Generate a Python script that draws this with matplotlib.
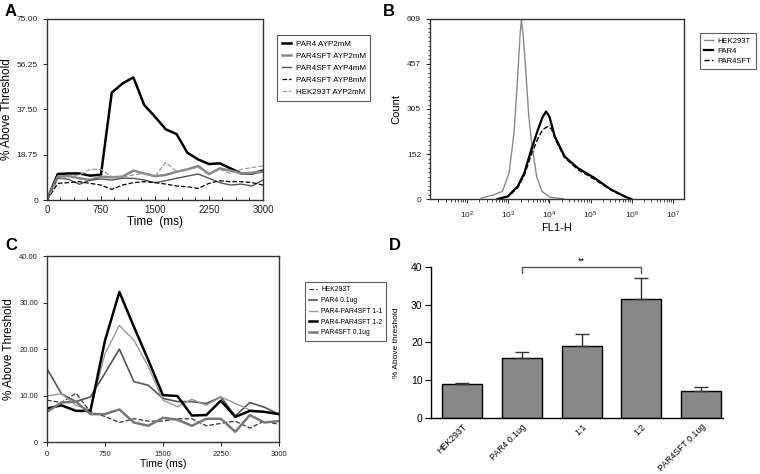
import matplotlib
matplotlib.use('Agg')
import matplotlib.pyplot as plt
import numpy as np
from matplotlib.ticker import MultipleLocator, LogLocator, NullFormatter

plt.rcParams['font.family'] = ['Liberation Sans', 'DejaVu Sans']

# ---- panel A data (sampled every 150 ms) ----
a_time = [0, 150, 300, 450, 600, 750, 900, 1050, 1200, 1350, 1500, 1650, 1800, 1950, 2100,
          2250, 2400, 2550, 2700, 2850, 3000]
a_par4 = [0, 10.8, 11.0, 11.0, 10.1, 10.5, 44.5, 48.3, 50.8, 39.4, 34.5, 29.3, 27.3, 19.6,
          16.8, 14.9, 15.2, 13.1, 11.0, 11.0, 12.2]
a_sft2 = [0, 9.7, 9.9, 9.0, 8.3, 9.7, 9.4, 9.7, 12.2, 11.0, 9.9, 10.4, 11.7, 12.7, 14.1,
          10.8, 13.1, 12.2, 11.0, 11.3, 11.7]
a_sft4 = [0, 9.0, 8.6, 6.5, 8.3, 8.7, 8.3, 9.0, 9.0, 8.3, 7.2, 8.0, 9.0, 9.9, 10.8,
          9.0, 7.2, 6.2, 6.6, 5.8, 8.3]
a_sft8 = [0, 6.9, 7.2, 7.6, 6.9, 6.2, 4.4, 6.2, 7.2, 7.6, 7.2, 6.6, 5.8, 5.5, 4.8,
          6.9, 8.0, 7.6, 7.6, 7.2, 6.2]
a_hek = [0, 8.6, 9.7, 10.4, 12.7, 12.7, 9.7, 9.4, 10.4, 11.0, 9.7, 15.6, 11.7, 12.7, 13.5,
         10.4, 12.7, 11.0, 12.7, 13.5, 14.1]

# ---- panel B data (log10 FL1-H, count) ----
b_hek_x = [2.34, 2.66, 2.86, 3.02, 3.14, 3.22, 3.29, 3.32, 3.36, 3.42, 3.50, 3.58, 3.69, 3.82, 4.02, 4.35]
b_hek_y = [3, 15, 26, 88, 223, 392, 560, 605, 560, 448, 279, 178, 77, 26, 6, 1]
b_par4_x = [2.74, 2.99, 3.23, 3.39, 3.56, 3.72, 3.84, 3.92, 4.00, 4.13, 4.37, 4.69, 5.10, 5.50, 5.83, 5.99]
b_par4_y = [0, 9, 43, 88, 167, 234, 279, 296, 279, 212, 144, 105, 71, 32, 9, 0]
b_sft_x = [2.74, 2.99, 3.23, 3.39, 3.56, 3.72, 3.84, 3.95, 4.05, 4.15, 4.37, 4.69, 5.10, 5.50, 5.83, 5.99]
b_sft_y = [0, 8, 38, 80, 150, 205, 235, 245, 238, 200, 140, 100, 66, 30, 8, 0]

# ---- panel C data (sampled every 187.5 ms) ----
c_time = [0, 187.5, 375, 562.5, 750, 937.5, 1125, 1312.5, 1500, 1687.5, 1875, 2062.5,
          2250, 2437.5, 2625, 2812.5, 3000]
c_hek = [9.0, 8.5, 10.5, 6.5, 5.5, 4.2, 5.0, 4.5, 4.5, 5.0, 5.0, 3.5, 4.0, 4.5, 3.0, 4.5, 3.8]
c_par4 = [15.8, 10.4, 8.7, 9.7, 14.8, 20.0, 13.0, 12.2, 9.4, 8.7, 8.7, 8.3, 9.7, 5.6, 8.5, 7.5, 6.0]
c_11 = [9.9, 10.4, 7.9, 6.9, 19.0, 25.1, 21.9, 16.2, 9.0, 7.6, 9.2, 7.9, 9.7, 8.3, 6.9, 6.5, 6.2]
c_12 = [7.2, 7.9, 6.7, 6.7, 21.8, 32.3, 24.8, 17.6, 10.1, 9.9, 5.7, 5.8, 8.9, 5.4, 6.7, 6.5, 6.0]
c_sft = [6.5, 8.5, 8.7, 6.0, 6.0, 7.0, 4.2, 3.5, 5.2, 4.8, 3.5, 5.0, 5.0, 2.2, 5.8, 4.2, 4.5]

# ---- panel D data ----
d_labels = ['HEK293T', 'PAR4 0.1ug', '1:1', '1:2', 'PAR4SFT 0.1ug']
d_means = [9.1, 16.0, 19.0, 31.4, 7.1]
d_errs = [0.3, 1.4, 3.3, 5.7, 1.0]

fig = plt.figure(figsize=(7.6, 4.74), dpi=100)

def box(ax):
    for s in ax.spines.values():
        s.set_color('#333333')
        s.set_linewidth(1.0)
    ax.tick_params(labelsize=6, length=3, width=0.7, colors='#222222')

def leg(ax, x, y, fs, **kw):
    lg = ax.legend(loc='upper left', bbox_to_anchor=(x / 760, 1 - y / 474), bbox_transform=fig.transFigure,
                   fontsize=fs, frameon=True, fancybox=False, edgecolor='#333333', handlelength=1.1,
                   handletextpad=0.6, borderpad=0.6, **kw)
    lg.get_frame().set_linewidth(0.8)

# ---- A ----
axA = fig.add_axes([0.0618, 0.578, 0.2842, 0.382])
axA.plot(a_time, a_par4, color='black', lw=1.8, label='PAR4 AYP2mM')
axA.plot(a_time, a_sft2, color='#888888', lw=1.8, label='PAR4SFT AYP2mM')
axA.plot(a_time, a_sft4, color='#555555', lw=1.0, label='PAR4SFT AYP4mM')
axA.plot(a_time, a_sft8, color='black', lw=0.9, ls='--', label='PAR4SFT AYP8mM')
axA.plot(a_time, a_hek, color='#999999', lw=0.9, ls='--', label='HEK293T AYP2mM')
axA.set_xlim(0, 3000)
axA.set_ylim(0, 75)
axA.set_xticks([0, 750, 1500, 2250, 3000])
axA.xaxis.set_minor_locator(MultipleLocator(187.5))
axA.set_yticks([0, 18.75, 37.5, 56.25, 75])
axA.set_yticklabels(['0', '18.75', '37.50', '56.25', '75.00'])
box(axA)
axA.tick_params(axis='x', which='both', direction='in')
axA.tick_params(axis='x', labelsize=7)
axA.set_xlabel('Time  (ms)', fontsize=8.5, labelpad=1)
axA.set_ylabel('% Above Threshold', fontsize=8.5, labelpad=3)
leg(axA, 273, 31, 5.8, labelspacing=0.55)

# ---- B ----
axB = fig.add_axes([0.5658, 0.580, 0.3342, 0.380])
axB.plot(10 ** np.array(b_hek_x), b_hek_y, color='#888888', lw=1.0, label='HEK293T')
axB.plot(10 ** np.array(b_par4_x), b_par4_y, color='black', lw=1.6, label='PAR4')
axB.plot(10 ** np.array(b_sft_x), b_sft_y, color='black', lw=1.0, ls='--', label='PAR4SFT')
axB.set_xscale('log')
axB.set_xlim(10 ** 1.1, 10 ** 7.27)
axB.set_ylim(0, 609)
axB.set_xticks([1e2, 1e3, 1e4, 1e5, 1e6, 1e7])
axB.xaxis.set_minor_locator(LogLocator(base=10, subs=np.arange(2, 10)))
axB.xaxis.set_minor_formatter(NullFormatter())
axB.set_yticks([0, 152, 305, 457, 609])
axB.yaxis.set_minor_locator(MultipleLocator(15.225))
box(axB)
axB.tick_params(which='minor', length=1.8, width=0.5)
axB.tick_params(axis='x', pad=5)
axB.set_xlabel('FL1-H', fontsize=8, labelpad=1)
axB.set_ylabel('Count', fontsize=8, labelpad=4)
leg(axB, 696, 29, 5.5, labelspacing=0.35)

# ---- C ----
axC = fig.add_axes([0.0618, 0.0675, 0.305, 0.392])
axC.plot(c_time, c_hek, color='#333333', lw=0.9, ls='--', label='HEK293T')
axC.plot(c_time, c_par4, color='#555555', lw=1.2, label='PAR4 0.1ug')
axC.plot(c_time, c_11, color='#999999', lw=1.0, label='PAR4-PAR4SFT 1-1')
axC.plot(c_time, c_12, color='black', lw=1.8, label='PAR4-PAR4SFT 1-2')
axC.plot(c_time, c_sft, color='#777777', lw=1.8, label='PAR4SFT 0.1ug')
axC.set_xlim(0, 3000)
axC.set_ylim(0, 40)
axC.set_xticks([0, 750, 1500, 2250, 3000])
axC.set_yticks([0, 10, 20, 30, 40])
axC.set_yticklabels(['0', '10.00', '20.00', '30.00', '40.00'])
box(axC)
axC.tick_params(labelsize=5.5)
axC.set_xlabel('Time (ms)', fontsize=7.5, labelpad=1)
axC.set_ylabel('% Above Threshold', fontsize=8.5, labelpad=3)
leg(axC, 302, 279, 4.9, labelspacing=0.55)

# ---- D ----
axD = fig.add_axes([0.567, 0.118, 0.384, 0.319])
xpos = np.arange(len(d_labels))
axD.bar(xpos, d_means, width=0.667, color='#888888', edgecolor='black', linewidth=1.0)
axD.errorbar(xpos, d_means, yerr=[np.zeros(len(d_errs)), d_errs], fmt='none', ecolor='#333333',
             elinewidth=1.0, capsize=5, capthick=1.0)
axD.set_xlim(-0.52, 4.36)
axD.set_ylim(0, 40)
axD.set_yticks([0, 10, 20, 30, 40])
axD.set_xticks(xpos)
axD.set_xticklabels(d_labels, rotation=45, ha='right', rotation_mode='anchor', fontsize=6.3)
axD.spines['top'].set_visible(False)
axD.spines['right'].set_visible(False)
axD.spines['left'].set_linewidth(1.0)
axD.spines['bottom'].set_linewidth(1.0)
axD.tick_params(axis='y', labelsize=7.5, length=4, pad=2)
axD.tick_params(axis='x', length=0, pad=3)
axD.set_ylabel('% Above threshold', fontsize=6, labelpad=8)
axD.plot([1, 1, 3, 3], [38.5, 40, 40, 38.5], color='#555555', lw=1.0, clip_on=False)
axD.text(2, 40.4, '**', ha='center', va='bottom', fontsize=6.5)

# panel letters
for lab, x, y in [('A', 5, 11), ('B', 383, 11), ('C', 5, 245), ('D', 389, 245)]:
    fig.text(x / 760, 1 - y / 474, lab, fontsize=12, fontweight='bold', va='center', ha='left')

fig.savefig('out.png', dpi=100)
